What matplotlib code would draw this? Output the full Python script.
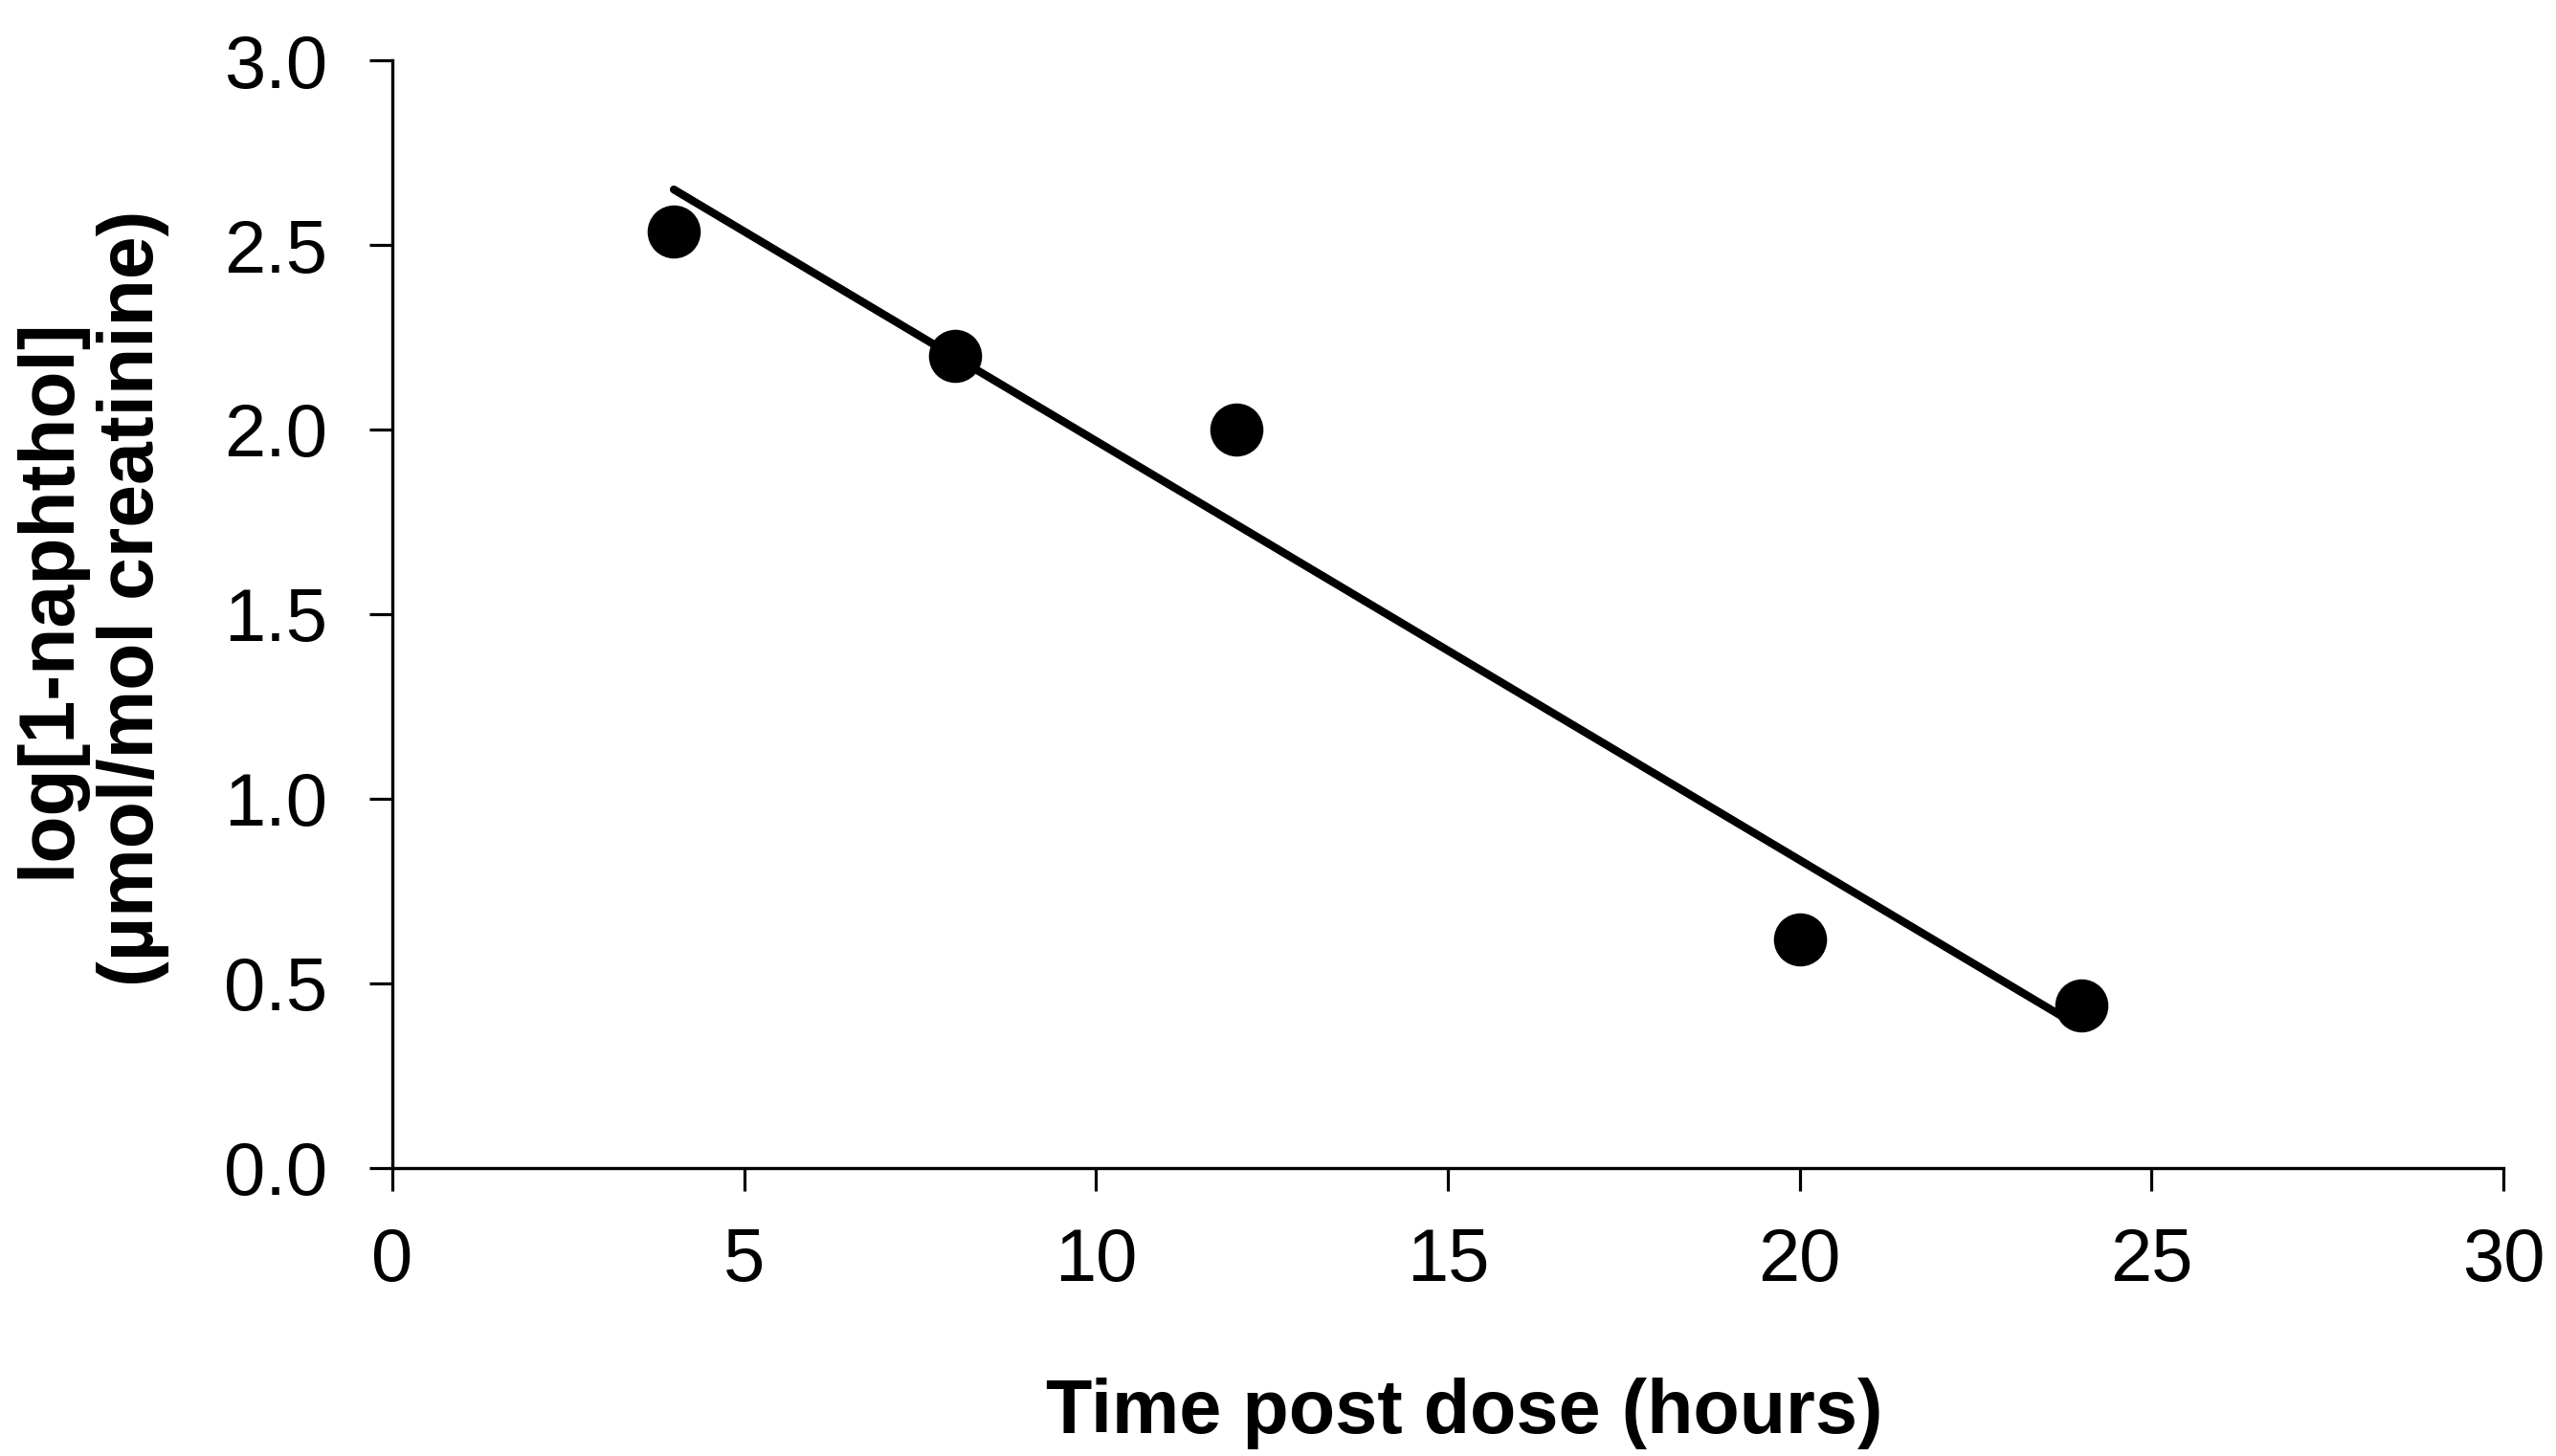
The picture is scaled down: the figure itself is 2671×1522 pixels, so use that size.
import matplotlib
matplotlib.use("Agg")
import matplotlib.pyplot as plt

plt.rcParams["font.family"] = ["Liberation Sans", "DejaVu Sans"]

# measured points
hours = [4, 8, 12, 20, 24]
log_naphthol = [2.535, 2.20, 2.00, 0.62, 0.44]

# fitted line end points
fit_hours = [4, 24]
fit_log = [2.65, 0.38]

x_ticks = [0, 5, 10, 15, 20, 25, 30]
y_ticks = [0.0, 0.5, 1.0, 1.5, 2.0, 2.5, 3.0]

fig = plt.figure(figsize=(26.71, 15.22), dpi=100)
ax = fig.add_axes([0.1535, 0.1978, 0.8259, 0.7608])

ax.plot(hours, log_naphthol, linestyle="none", marker="o", markersize=39,
        color="black", zorder=2)
ax.plot(fit_hours, fit_log, color="black", linewidth=6,
        solid_capstyle="round", zorder=3)

ax.set_xlim(0, 30)
ax.set_ylim(0, 3.0)
ax.set_xticks(x_ticks)
ax.set_yticks(y_ticks)
ax.set_xticklabels([str(t) for t in x_ticks])
ax.set_yticklabels([f"{t:.1f}" for t in y_ticks])
ax.tick_params(axis="both", direction="out", length=17, width=2.3,
               labelsize=56, colors="black")
ax.tick_params(axis="x", pad=27)
ax.tick_params(axis="y", pad=32)

for side in ("top", "right"):
    ax.spines[side].set_visible(False)
for side in ("left", "bottom"):
    ax.spines[side].set_linewidth(2.4)

ax.set_xlabel("Time post dose (hours)", fontsize=57, fontweight="bold")
ax.xaxis.set_label_coords(0.5077, -0.2392)
ax.xaxis.label.set_va("baseline")

ax.set_ylabel("log[1-naphthol]\n(µmol/mol creatinine)", fontsize=58,
              fontweight="bold")
ax.yaxis.set_label_coords(-0.1426, 0.5147)
ax.yaxis.label.set_va("center")

fig.savefig("out.png", dpi=100, facecolor="white")
plt.close(fig)
